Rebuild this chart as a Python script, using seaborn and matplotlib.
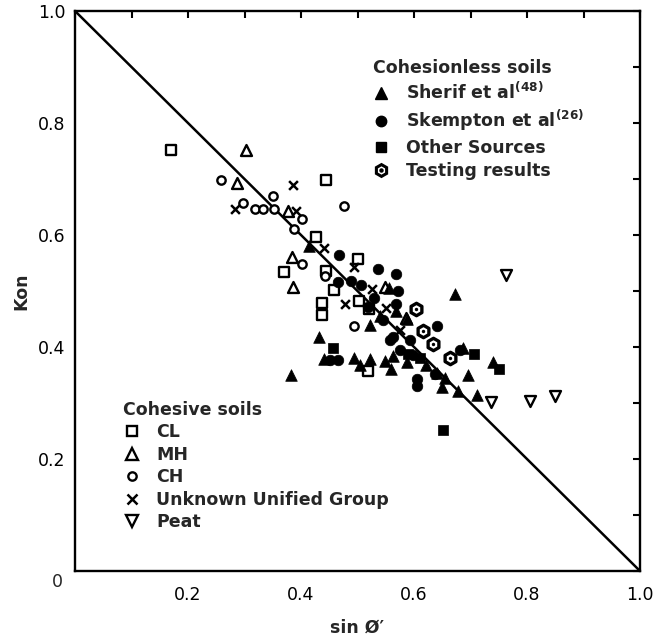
import numpy as np
import pandas as pd
import matplotlib
matplotlib.use("Agg")
import matplotlib.pyplot as plt
from matplotlib.lines import Line2D
import seaborn as sns

# ---- cohesive soils (open symbols) ----
cl_x = [0.170, 0.445, 0.427, 0.501, 0.370, 0.445, 0.438, 0.437, 0.459, 0.503, 0.521, 0.519]
cl_y = [0.751, 0.698, 0.596, 0.557, 0.534, 0.536, 0.478, 0.457, 0.502, 0.482, 0.467, 0.357]

mh_x = [0.303, 0.286, 0.377, 0.384, 0.386, 0.548, 0.585]
mh_y = [0.752, 0.692, 0.643, 0.560, 0.507, 0.508, 0.452]

ch_x = [0.258, 0.298, 0.319, 0.333, 0.350, 0.352, 0.388, 0.401, 0.402, 0.476, 0.443, 0.494]
ch_y = [0.699, 0.658, 0.646, 0.647, 0.669, 0.647, 0.610, 0.628, 0.548, 0.652, 0.527, 0.437]

unk_x = [0.283, 0.386, 0.392, 0.440, 0.493, 0.478, 0.526, 0.550, 0.575]
unk_y = [0.646, 0.690, 0.643, 0.576, 0.542, 0.477, 0.503, 0.470, 0.430]

peat_x = [0.762, 0.737, 0.805, 0.849]
peat_y = [0.528, 0.302, 0.303, 0.313]

# ---- cohesionless soils (solid symbols) ----
sherif_x = [0.414, 0.383, 0.431, 0.440, 0.493, 0.504, 0.522, 0.549, 0.563, 0.560, 0.587, 0.622,
            0.640, 0.649, 0.655, 0.678, 0.696, 0.711, 0.740, 0.673, 0.687, 0.555, 0.587, 0.540,
            0.522, 0.568]
sherif_y = [0.580, 0.350, 0.417, 0.379, 0.380, 0.367, 0.378, 0.375, 0.384, 0.361, 0.374, 0.368,
            0.353, 0.328, 0.345, 0.322, 0.350, 0.314, 0.374, 0.495, 0.398, 0.505, 0.450, 0.455,
            0.440, 0.465]

skempton_x = [0.468, 0.537, 0.569, 0.507, 0.466, 0.572, 0.569, 0.641, 0.563, 0.593, 0.451, 0.466,
              0.605, 0.605, 0.637, 0.519, 0.558, 0.575, 0.599, 0.488, 0.530, 0.545, 0.681]
skempton_y = [0.564, 0.540, 0.531, 0.510, 0.516, 0.500, 0.476, 0.437, 0.418, 0.413, 0.377, 0.377,
              0.342, 0.330, 0.352, 0.472, 0.413, 0.395, 0.386, 0.518, 0.488, 0.448, 0.395]

other_x = [0.456, 0.652, 0.707, 0.751, 0.611, 0.590]
other_y = [0.399, 0.252, 0.388, 0.360, 0.381, 0.388]

testing_x = [0.604, 0.616, 0.633, 0.664]
testing_y = [0.468, 0.429, 0.406, 0.380]

# K0 = 1 - sin(phi') reference line
line_x = [0.0, 1.0]
line_y = [1.0, 0.0]

x_ticks = [0.0, 0.1, 0.2, 0.3, 0.4, 0.5, 0.6, 0.7, 0.8, 0.9, 1.0]
x_tick_labels = ["", "", "0.2", "", "0.4", "", "0.6", "", "0.8", "", "1.0"]
y_ticks = [0.0, 0.1, 0.2, 0.3, 0.4, 0.5, 0.6, 0.7, 0.8, 0.9, 1.0]
y_tick_labels = ["", "", "0.2", "", "0.4", "", "0.6", "", "0.8", "", "1.0"]
origin_label = "0"

sns.set_style("white")
plt.rcParams.update({
    "font.family": ["DejaVu Sans"],
    "mathtext.default": "bf",
})

fig = plt.figure(figsize=(6.64, 6.36), dpi=100)
ax = fig.add_axes([75 / 664, 65 / 636, 565 / 664, 560 / 636])

sns.lineplot(x=line_x, y=line_y, color="black", linewidth=1.8, ax=ax)

EDGE = 1.7
open_kw = dict(color="white", edgecolor="black", linewidth=EDGE, zorder=3)
solid_kw = dict(color="black", edgecolor="black", linewidth=0.5, zorder=3)

sns.scatterplot(x=cl_x, y=cl_y, marker="s", s=42, ax=ax, **open_kw)
sns.scatterplot(x=mh_x, y=mh_y, marker="^", s=62, ax=ax, **open_kw)
sns.scatterplot(x=ch_x, y=ch_y, marker="o", s=36, ax=ax, **open_kw)
sns.scatterplot(x=unk_x, y=unk_y, marker="x", s=40, color="black", linewidth=1.8, zorder=3, ax=ax)
sns.scatterplot(x=peat_x, y=peat_y, marker="v", s=62, ax=ax, **open_kw)

sns.scatterplot(x=sherif_x, y=sherif_y, marker="^", s=70, ax=ax, **solid_kw)
sns.scatterplot(x=skempton_x, y=skempton_y, marker="o", s=58, ax=ax, **solid_kw)
sns.scatterplot(x=other_x, y=other_y, marker="s", s=58, ax=ax, **solid_kw)
sns.scatterplot(x=testing_x, y=testing_y, marker="h", s=80, color="white", edgecolor="black",
                linewidth=2.4, zorder=4, ax=ax)
sns.scatterplot(x=testing_x, y=testing_y, marker="o", s=6, color="black", edgecolor="black",
                linewidth=0, zorder=5, ax=ax)

ax.set_xlim(0, 1)
ax.set_ylim(0, 1)
ax.set_xticks(x_ticks)
ax.set_xticklabels(x_tick_labels)
ax.set_yticks(y_ticks)
ax.set_yticklabels(y_tick_labels)
ax.tick_params(axis="both", direction="in", length=5, width=1.5, top=True, right=True,
               labelsize=12.5, colors="black")
ax.tick_params(axis="x", pad=11)
ax.tick_params(axis="y", pad=7)
for sp in ax.spines.values():
    sp.set_color("black")
    sp.set_linewidth(1.7)
ax.text(-0.022, -0.004, origin_label, transform=ax.transAxes, ha="right", va="top", fontsize=12.5)

ax.set_xlabel("sin Ø′", fontsize=12.5, fontweight="bold", labelpad=10)
ax.set_ylabel("Kon", fontsize=12.5, fontweight="bold", labelpad=5)

prop = {"weight": "bold", "size": 12.5}

h_sherif = Line2D([], [], ls="none", marker="^", ms=8, mfc="black", mec="black")
h_skem = Line2D([], [], ls="none", marker="o", ms=7.5, mfc="black", mec="black")
h_other = Line2D([], [], ls="none", marker="s", ms=7.5, mfc="black", mec="black")
h_test = (Line2D([], [], ls="none", marker="h", ms=8.5, mfc="white", mec="black", mew=2.2),
          Line2D([], [], ls="none", marker="o", ms=2.2, mfc="black", mec="black"))
leg1 = ax.legend([h_sherif, h_skem, h_other, h_test],
                 [r"Sherif et al$^{(48)}$", r"Skempton et al$^{(26)}$", "Other Sources",
                  "Testing results"],
                 title="Cohesionless soils", loc="upper left", bbox_to_anchor=(0.527, 0.915),
                 frameon=False, alignment="left", prop=prop, title_fontproperties=prop,
                 handlelength=1.0, handletextpad=0.9, labelspacing=0.3, borderpad=0,
                 borderaxespad=0)
ax.add_artist(leg1)

h_cl = Line2D([], [], ls="none", marker="s", ms=6.5, mfc="white", mec="black", mew=1.7)
h_mh = Line2D([], [], ls="none", marker="^", ms=8, mfc="white", mec="black", mew=1.7)
h_ch = Line2D([], [], ls="none", marker="o", ms=6, mfc="white", mec="black", mew=1.7)
h_unk = Line2D([], [], ls="none", marker="x", ms=6.5, mec="black", mew=1.8)
h_peat = Line2D([], [], ls="none", marker="v", ms=8, mfc="white", mec="black", mew=1.7)
ax.legend([h_cl, h_mh, h_ch, h_unk, h_peat],
          ["CL", "MH", "CH", "Unknown Unified Group", "Peat"],
          title="Cohesive soils", loc="upper left", bbox_to_anchor=(0.085, 0.304),
          frameon=False, alignment="left", prop=prop, title_fontproperties=prop,
          handlelength=1.0, handletextpad=0.9, labelspacing=0.26, borderpad=0,
          borderaxespad=0)

fig.savefig("out.png", dpi=100, facecolor="white")
